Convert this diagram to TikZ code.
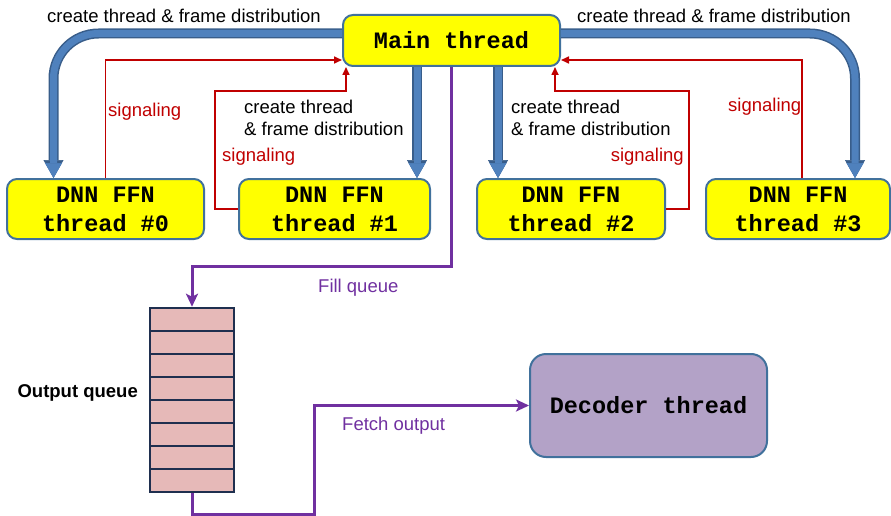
\documentclass[tikz,border=0pt]{standalone}
\usepackage{fontspec}
\setmainfont{Liberation Sans}
\setmonofont{Liberation Mono}
\usetikzlibrary{arrows.meta}
\definecolor{boxedge}{HTML}{41719C}
\definecolor{boxfill}{HTML}{FFFF00}
\definecolor{arrowfill}{HTML}{4F81BD}
\definecolor{arrowedge}{HTML}{385D8A}
\definecolor{sigred}{HTML}{C00000}
\definecolor{queuepurple}{HTML}{7030A0}
\definecolor{cellfill}{HTML}{E6B9B8}
\definecolor{celledge}{HTML}{1F2F4F}
\definecolor{decfill}{HTML}{B3A2C7}
\tikzset{
	threadbox/.style={draw=boxedge, line width=2pt, fill=boxfill, rounded corners=10pt, align=center, inner sep=0pt, font=\fontsize{23.5}{29}\selectfont\ttfamily\bfseries},
	cell/.style={draw=celledge, line width=2.5pt, fill=cellfill, minimum width=84pt, minimum height=23pt, inner sep=0pt},
	bigarrow/.style={line width=7pt, draw=arrowfill, -{Triangle[width=17pt,length=15pt,line width=0.5pt]},
		preaction={draw=arrowedge, line width=10pt, -{Triangle[width=20pt,length=18pt,line width=0.5pt]}}},
	sigline/.style={draw=sigred, line width=1.6pt, -{Triangle[width=7pt,length=8pt]}},
	qline/.style={draw=queuepurple, line width=3pt, -{Stealth[width=12pt,length=13pt,inset=3pt]}},
	lbl/.style={inner sep=0pt, font=\fontsize{18.5}{22}\selectfont},
	siglbl/.style={lbl, text=sigred},
	qlbl/.style={lbl, text=queuepurple},
}
\begin{document}
\begin{tikzpicture}[x=1pt, y=-1pt]
	\useasboundingbox (0,0) rectangle (891,516);
	\node[threadbox, minimum width=217pt, minimum height=51pt] (main) at (451.5,40.5) {Main thread};
	\node[threadbox, minimum width=197pt, minimum height=60pt] (t0) at (105.5,209) {DNN FFN\\thread \#0};
	\node[threadbox, minimum width=191pt, minimum height=60pt] (t1) at (334.5,209) {DNN FFN\\thread \#1};
	\node[threadbox, minimum width=188pt, minimum height=60pt] (t2) at (571,209) {DNN FFN\\thread \#2};
	\node[threadbox, minimum width=184pt, minimum height=60pt] (t3) at (798,209) {DNN FFN\\thread \#3};
	\node[threadbox, fill=decfill, minimum width=237pt, minimum height=103pt, rounded corners=16pt] (dec) at (648.5,405.5) {Decoder thread};
	\foreach \i in {0,...,7} \node[cell] (q\i) at (192,319.5+23*\i) {};
	% thread creation
	\coordinate (c1) at (417,120);
	\coordinate (c2) at (498,120);
	\draw[bigarrow, rounded corners=45pt] ([yshift=7pt]main.west) -| ([xshift=-52pt]t0.north);
	\draw[bigarrow, rounded corners=45pt] ([yshift=7pt]main.east) -| ([xshift=57pt]t3.north);
	\draw[bigarrow] (main.south -| c1) -- (t1.north -| c1);
	\draw[bigarrow] (main.south -| c2) -- (t2.north -| c2);
	% signaling back to main
	\coordinate (s0) at (105,60);
	\coordinate (s1) at (215,91);
	\coordinate (s2) at (689,91);
	\draw[sigline] (t0.north) |- (main.west |- s0);
	\draw[sigline] ([xshift=4pt]t3.north) |- (main.east |- s0);
	\draw[sigline] (t1.west) -| (s1) -| ([xshift=4pt]main.south west);
	\draw[sigline] (t2.east) -| (s2) -| ([xshift=-6pt]main.south east);
	% queue
	\coordinate (fetchlow) at (314,514);
	\draw[qline] (main.south) |- ([yshift=40pt]q0.north) -- (q0.north);
	\draw[qline] (q7.south) |- (fetchlow) |- (dec.west);
	% labels
	\node[lbl, anchor=west] at (47,16) {create thread \& frame distribution};
	\node[lbl, anchor=west] at (577,16) {create thread \& frame distribution};
	\node[lbl, anchor=west, align=left] at (244,118) {create thread\\\& frame distribution};
	\node[lbl, anchor=west, align=left] at (511,118) {create thread\\\& frame distribution};
	\node[siglbl, anchor=west] at (108,112) {signaling};
	\node[siglbl, anchor=west] at (222,157) {signaling};
	\node[siglbl, anchor=east] at (684,157) {signaling};
	\node[siglbl, anchor=west] at (728,107) {signaling};
	\node[qlbl, anchor=west] at (318,288) {Fill queue};
	\node[qlbl, anchor=west] at (342,426) {Fetch output};
	\node[lbl, anchor=east, font=\fontsize{18.5}{22}\selectfont\bfseries] at (138,393) {Output queue};
\end{tikzpicture}
\end{document}
